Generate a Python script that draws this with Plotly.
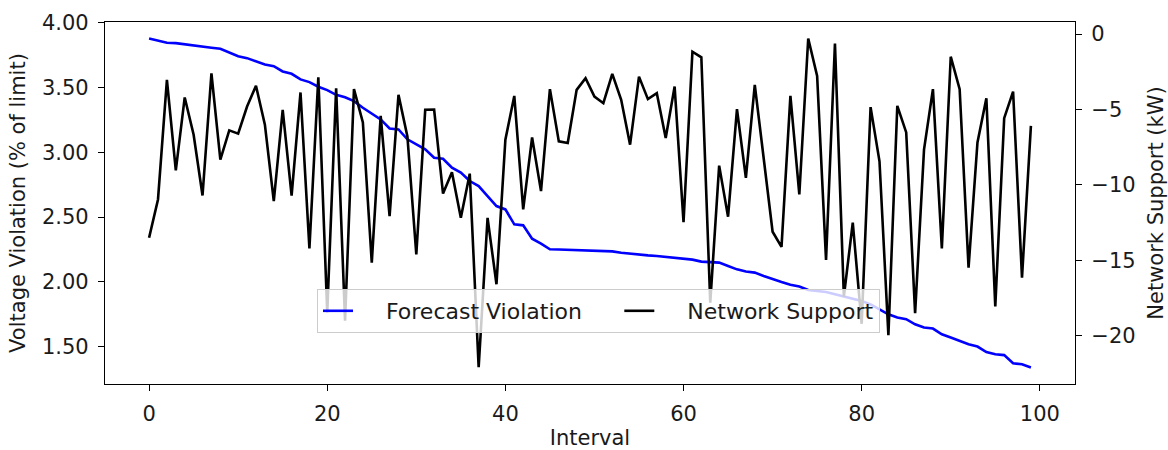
import plotly.graph_objects as go

intervals = list(range(100))

forecast_violation = [
    3.879, 3.863, 3.846, 3.843, 3.833, 3.825, 3.817, 3.807, 3.799, 3.768,
    3.742, 3.727, 3.704, 3.678, 3.665, 3.624, 3.606, 3.563, 3.542, 3.506,
    3.480, 3.444, 3.425, 3.395, 3.344, 3.300, 3.254, 3.184, 3.177, 3.100,
    3.061, 3.023, 2.958, 2.950, 2.881, 2.843, 2.778, 2.739, 2.662, 2.585,
    2.559, 2.444, 2.436, 2.333, 2.295, 2.251, 2.250, 2.248, 2.246, 2.243,
    2.240, 2.238, 2.235, 2.225, 2.217, 2.212, 2.204, 2.199, 2.191, 2.184,
    2.176, 2.171, 2.156, 2.153, 2.148, 2.122, 2.096, 2.079, 2.071, 2.045,
    2.019, 1.999, 1.978, 1.963, 1.937, 1.929, 1.921, 1.904, 1.886, 1.865,
    1.852, 1.826, 1.788, 1.749, 1.724, 1.711, 1.672, 1.647, 1.639, 1.595,
    1.570, 1.543, 1.518, 1.500, 1.458, 1.441, 1.434, 1.371, 1.363, 1.338,
]

network_support = [
    -13.5, -10.96, -3.04, -9.03, -4.2, -6.67, -10.7, -2.6, -8.32, -6.38,
    -6.6, -4.8, -3.43, -6.0, -11.07, -5.02, -10.7, -3.87, -14.2, -2.86,
    -18.45, -3.59, -19.0, -3.65, -5.86, -15.15, -5.42, -12.07, -4.03, -6.78,
    -14.6, -5.02, -5.0, -10.57, -9.16, -12.18, -9.25, -22.08, -12.18, -16.58,
    -7.0, -4.1, -11.62, -6.85, -10.41, -3.65, -7.11, -7.22, -3.7, -2.93,
    -4.14, -4.58, -2.64, -4.36, -7.33, -2.82, -4.31, -3.92, -6.89, -3.48,
    -12.46, -1.17, -1.54, -17.8, -8.72, -12.1, -4.98, -9.53, -3.37, -8.3,
    -13.1, -14.1, -4.1, -10.63, -0.29, -2.77, -14.97, -0.62, -17.4, -12.5,
    -19.2, -4.84, -8.43, -19.95, -4.76, -6.52, -18.5, -7.66, -3.65, -14.2,
    -1.5, -3.65, -15.48, -7.18, -4.25, -18.05, -5.57, -3.81, -16.14, -6.08,
]

series_names = ["Forecast Violation", "Network Support"]

FONT = "DejaVu Sans"
TXT = "#1a1a1a"
NB = "\u00a0"
THIN = "\u2009"

fig = go.Figure()
fig.add_trace(go.Scatter(
    x=intervals, y=forecast_violation, mode="lines",
    name=NB * 4 + series_names[0] + NB * 4 + THIN,
    line=dict(color="#0000ff", width=2.6), yaxis="y",
))
fig.add_trace(go.Scatter(
    x=intervals, y=network_support, mode="lines",
    name=NB * 4 + series_names[1],
    line=dict(color="#000000", width=2.6), yaxis="y2",
))

axis_common = dict(
    showgrid=False, zeroline=False, showline=True, linecolor="#000000", linewidth=1.3,
    ticks="outside", ticklen=6, tickwidth=1.3, tickcolor="#000000",
    tickfont=dict(family=FONT, size=21, color=TXT),
    automargin=False, ticklabelstandoff=5,
)
title_font = dict(family=FONT, size=21, color=TXT)

fig.update_layout(
    width=1168, height=450,
    margin=dict(l=105, r=93, t=22, b=66),
    paper_bgcolor="white", plot_bgcolor="white",
    font=dict(family=FONT, size=21, color=TXT),
    showlegend=True,
    xaxis=dict(
        range=[-4.95, 103.95], tick0=0, dtick=20, mirror=True,
        title=dict(text="Interval", font=title_font, standoff=10),
        **axis_common,
    ),
    yaxis=dict(
        range=[1.211, 4.006], tick0=0, dtick=0.5, tickformat=".2f",
        title=dict(text="Voltage Violation (% of limit)", font=title_font, standoff=10),
        **axis_common,
    ),
    yaxis2=dict(
        range=[-23.19, 0.80], tick0=0, dtick=5, overlaying="y", side="right",
        title=dict(text="Network Support (kW)", font=title_font, standoff=22),
        **axis_common,
    ),
    legend=dict(
        orientation="h", x=(317 - 105) / 970, xanchor="left",
        y=(384 - 311) / 362, yanchor="middle",
        bgcolor="rgba(255,255,255,0.8)", bordercolor="#cccccc", borderwidth=1,
        font=dict(family=FONT, size=22, color=TXT),
    ),
)

fig.write_html("out.html")
